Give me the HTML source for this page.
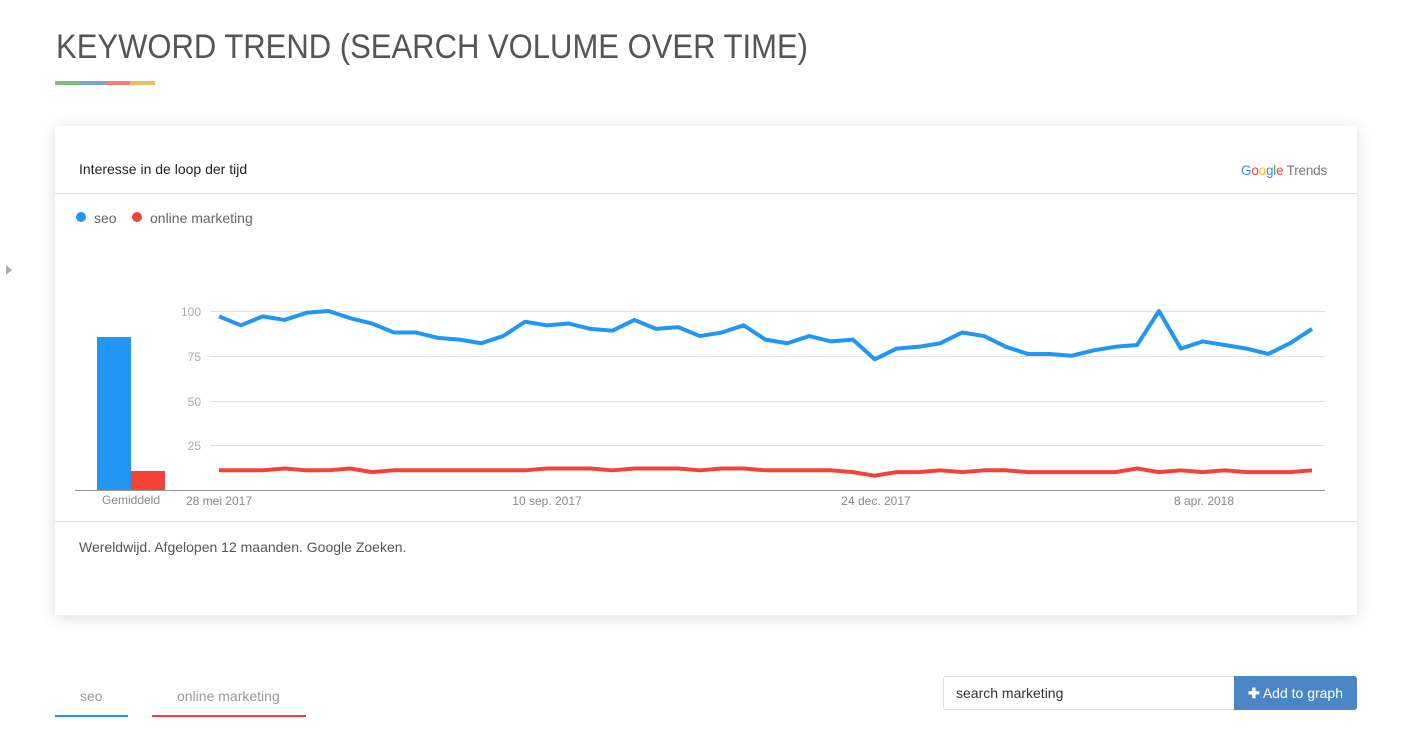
<!DOCTYPE html>
<html><head><meta charset="utf-8"><style>
body{margin:0;width:1404px;height:735px;background:#fff;position:relative;overflow:hidden;font-family:"Liberation Sans",sans-serif}
.abs{position:absolute}
</style></head><body>
<svg class="abs" style="left:0;top:0" width="1404" height="80"><text x="56" y="58" font-size="34" fill="#555" font-family="Liberation Sans,sans-serif" textLength="752" lengthAdjust="spacingAndGlyphs">KEYWORD TREND (SEARCH VOLUME OVER TIME)</text></svg>
<div class="abs" style="left:55px;top:81px;width:25px;height:4px;background:#7cbf7c"></div>
<div class="abs" style="left:80px;top:81px;width:25px;height:4px;background:#75a9cf"></div>
<div class="abs" style="left:105px;top:81px;width:25px;height:4px;background:#f47c7c"></div>
<div class="abs" style="left:130px;top:81px;width:25px;height:4px;background:#ebbe60"></div>
<div class="abs" style="left:6px;top:265px;width:0;height:0;border-left:6px solid #aaa;border-top:5px solid transparent;border-bottom:5px solid transparent"></div>
<div class="abs" style="left:55px;top:126px;width:1302px;height:489px;background:#fff;box-shadow:0 2px 14px rgba(0,0,0,0.15)"></div>
<div class="abs" style="left:79px;top:161px;font-size:14px;color:#222">Interesse in de loop der tijd</div>
<div class="abs" style="left:1241px;top:163px;font-size:13.5px;color:#777;letter-spacing:-0.2px"><span style="color:#4285f4">G</span><span style="color:#ea4335">o</span><span style="color:#fbbc05">o</span><span style="color:#4285f4">g</span><span style="color:#34a853">l</span><span style="color:#ea4335">e</span> Trends</div>
<div class="abs" style="left:55px;top:193px;width:1302px;height:1px;background:#ddd"></div>
<div class="abs" style="left:55px;top:521px;width:1302px;height:1px;background:#ddd"></div>
<div class="abs" style="left:79px;top:539px;font-size:14px;color:#555">Wereldwijd. Afgelopen 12 maanden. Google Zoeken.</div>
<div class="abs" style="left:76px;top:212px;width:10px;height:10px;border-radius:50%;background:#2196f3"></div>
<div class="abs" style="left:94px;top:210px;font-size:14px;color:#666">seo</div>
<div class="abs" style="left:132px;top:212px;width:10px;height:10px;border-radius:50%;background:#f44336"></div>
<div class="abs" style="left:150px;top:210px;font-size:14px;color:#666">online marketing</div>
<svg class="abs" style="left:0;top:0" width="1404" height="735">
<g stroke="#e0e0e0" stroke-width="1">
<line x1="210" y1="311.5" x2="1325" y2="311.5"/><line x1="210" y1="356.5" x2="1325" y2="356.5"/>
<line x1="210" y1="401.5" x2="1325" y2="401.5"/><line x1="210" y1="445.5" x2="1325" y2="445.5"/>
</g>
<line x1="185" y1="490.5" x2="1325" y2="490.5" stroke="#999"/>
<line x1="75" y1="490.5" x2="190" y2="490.5" stroke="#999"/>
<rect x="97" y="337" width="34" height="153" fill="#2196f3"/>
<rect x="131" y="471" width="34" height="19" fill="#f44336"/>
<g font-size="12" fill="#aaa" font-family="Liberation Sans,sans-serif" text-anchor="end">
<text x="201" y="316">100</text><text x="201" y="361">75</text><text x="201" y="406">50</text><text x="201" y="450">25</text>
</g>
<g font-size="12" fill="#888" font-family="Liberation Sans,sans-serif" text-anchor="middle">
<text x="131" y="504">Gemiddeld</text><text x="219" y="505">28 mei 2017</text><text x="547" y="505">10 sep. 2017</text><text x="876" y="505">24 dec. 2017</text><text x="1204" y="505">8 apr. 2018</text>
</g>
<g transform="translate(219,490) scale(21.86,-1.79)" fill="none" stroke-linejoin="round">
<polyline vector-effect="non-scaling-stroke" stroke="#f44336" stroke-width="4" points="0,11 1,11 2,11 3,12 4,11 5,11 6,12 7,10 8,11 9,11 10,11 11,11 12,11 13,11 14,11 15,12 16,12 17,12 18,11 19,12 20,12 21,12 22,11 23,12 24,12 25,11 26,11 27,11 28,11 29,10 30,8 31,10 32,10 33,11 34,10 35,11 36,11 37,10 38,10 39,10 40,10 41,10 42,12 43,10 44,11 45,10 46,11 47,10 48,10 49,10 50,11"/>
<polyline vector-effect="non-scaling-stroke" stroke="#2196f3" stroke-width="4" points="0,97 1,92 2,97 3,95 4,99 5,100 6,96 7,93 8,88 9,88 10,85 11,84 12,82 13,86 14,94 15,92 16,93 17,90 18,89 19,95 20,90 21,91 22,86 23,88 24,92 25,84 26,82 27,86 28,83 29,84 30,73 31,79 32,80 33,82 34,88 35,86 36,80 37,76 38,76 39,75 40,78 41,80 42,81 43,100 44,79 45,83 46,81 47,79 48,76 49,82 50,90"/>
</g>
</svg>
<div class="abs" style="left:80px;top:688px;font-size:14px;color:#999">seo</div>
<div class="abs" style="left:55px;top:715px;width:73px;height:2px;background:#2196f3"></div>
<div class="abs" style="left:177px;top:688px;font-size:14px;color:#999">online marketing</div>
<div class="abs" style="left:152px;top:715px;width:154px;height:2px;background:#f44336"></div>
<div class="abs" style="left:943px;top:676px;width:291px;height:34px;border:1px solid #ddd;border-right:none;border-radius:3px 0 0 3px;box-sizing:border-box;"></div>
<div class="abs" style="left:956px;top:685px;font-size:14px;color:#333">search marketing</div>
<div class="abs" style="left:1234px;top:676px;width:123px;height:34px;background:#4a86c5;border-radius:0 3px 3px 0;color:#fff;font-size:14px;line-height:34px;text-align:center"><b>✚</b> Add to graph</div>
</body></html>
